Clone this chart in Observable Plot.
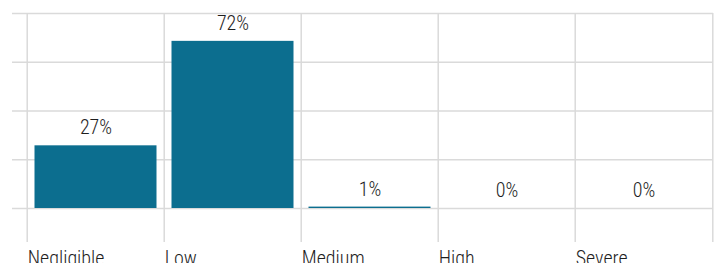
<!DOCTYPE html>
<html>
<head>
<meta charset="utf-8">
<script src="https://cdn.jsdelivr.net/npm/d3@7"></script>
<script src="https://cdn.jsdelivr.net/npm/@observablehq/plot@0.6"></script>
<style>
  html, body { margin: 0; padding: 0; background: #fff; }
  #chart svg { display: block; font-family: Roboto, sans-serif; font-stretch: condensed; }
  #chart svg text { font-stretch: condensed; font-weight: 300; }
</style>
</head>
<body>
<div id="chart"></div>
<script>
const categories = ["Negligible", "Low", "Medium", "High", "Severe"];
const shares = [27, 72, 0.6, 0, 0];
const labels = ["27%", "72%", "1%", "0%", "0%"];
const yTicks = [0, 21, 42, 63, 84];

const data = categories.map((c, i) => ({category: c, value: shares[i], label: labels[i]}));

const W = 722, H = 263;
const mL = 25, mR = 9, mT = 13, mB = 55;
const bw = (W - mL - mR) / categories.length;
const grid = "#dadada";
const ink = "#1e1e1e";

const chart = Plot.plot({
  width: W,
  height: H,
  marginLeft: mL,
  marginRight: mR,
  marginTop: mT,
  marginBottom: mB,
  style: {fontFamily: "Roboto, sans-serif", fontSize: "20px", color: ink, background: "#fff"},
  x: {domain: categories, padding: 0, axis: null},
  y: {domain: [0, 84], axis: null},
  marks: [
    Plot.ruleY(yTicks, {stroke: grid, strokeWidth: 1.5, insetLeft: -13}),
    Plot.ruleX(categories, {x: d => d, dx: -bw / 2, stroke: grid, strokeWidth: 1.5, insetBottom: -34}),
    Plot.ruleX([categories[categories.length - 1]], {x: d => d, dx: bw / 2, stroke: grid, strokeWidth: 1.5, insetBottom: -34}),
    Plot.barY(data, {x: "category", y: "value", fill: "#0c6e8f", insetLeft: 7.5, insetRight: 7.5}),
    Plot.text(data, {x: "category", y: "value", text: "label", dy: -18, fill: ink, fontSize: 20, lineAnchor: "middle"}),
    Plot.axisX({tickSize: 0, tickPadding: 42, textAnchor: "start", dx: -bw / 2 + 0.5, fontSize: 20, fill: ink, label: null})
  ]
});
document.getElementById("chart").appendChild(chart);
</script>
</body>
</html>
